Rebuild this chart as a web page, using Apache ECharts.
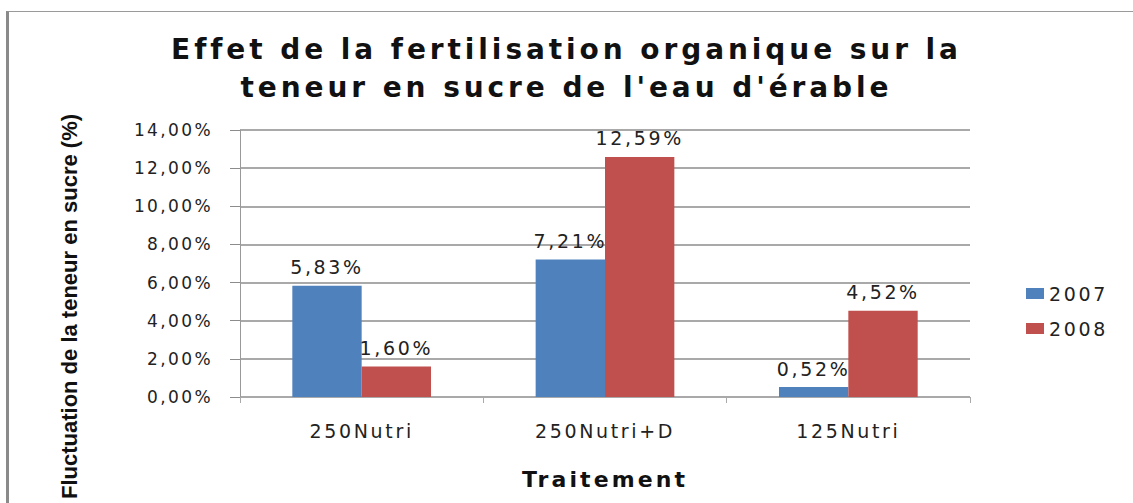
<!DOCTYPE html>
<html>
<head>
<meta charset="utf-8">
<script src="https://cdn.jsdelivr.net/npm/echarts@6/dist/echarts.min.js"></script>
<style>
  html, body { margin: 0; padding: 0; background: #fff; }
  #main { position: absolute; left: 0; top: 0; width: 1133px; height: 503px; }
  /* le texte de l'original est tres large : on espace les lettres */
  #main svg text { letter-spacing: 0.14em; }
  /* cadre du graphique (bord gauche et haut) */
  #frame { position: absolute; left: 6px; top: 11px; width: 1127px; height: 492px;
           border-left: 3px solid #8a8a8a; border-top: 1px solid #9a9a9a;
           box-sizing: border-box; pointer-events: none; }
</style>
</head>
<body>
<div id="main"></div>
<div id="frame"></div>
<script>
// donnees (en %)
var traitements = ['250Nutri', '250Nutri+D', '125Nutri'];
var annees = ['2007', '2008'];
var val2007 = [5.83, 7.21, 0.52];
var val2008 = [1.60, 12.59, 4.52];
var yMax = 14, yPas = 2;
var nomY = 'Fluctuation de la teneur en sucre (%)';

function pct(v) { return v.toFixed(2).replace('.', ',') + '%'; }

var font = 'DejaVu Sans';
var myChart = echarts.init(document.getElementById('main'), null, { renderer: 'svg' });

var labelCfg = {
  show: true, position: 'top', distance: 9,
  color: '#222', fontFamily: font, fontSize: 19,
  formatter: function (p) { return pct(p.value); }
};

var option = {
  backgroundColor: '#fff',
  animation: false,
  title: {
    text: "Effet de la fertilisation organique sur la\nteneur en sucre de l'eau d'érable",
    left: 'center', top: 25,
    textStyle: { fontFamily: font, fontWeight: 'bold', fontSize: 28, lineHeight: 38, color: '#111' }
  },
  legend: {
    data: annees, orient: 'vertical', left: 1021, top: 279, icon: 'rect',
    itemWidth: 18, itemHeight: 11, itemGap: 16,
    textStyle: { fontFamily: font, fontSize: 19, color: '#222' }
  },
  grid: { left: 240, right: 163, top: 130, bottom: 106, outerBoundsMode: 'none' },
  xAxis: {
    type: 'category', data: traitements,
    name: 'Traitement', nameLocation: 'middle', nameGap: 71,
    nameTextStyle: { fontFamily: font, fontWeight: 'bold', fontSize: 22, color: '#111' },
    axisLine: { show: false },
    axisTick: { show: true, length: 6, lineStyle: { color: '#aaa' } },
    axisLabel: { margin: 24, fontFamily: font, fontSize: 19, color: '#222' }
  },
  yAxis: {
    type: 'value', min: 0, max: yMax, interval: yPas,
    name: nomY, nameLocation: 'middle', nameGap: 160,
    nameTextStyle: {
      fontFamily: 'Liberation Sans Narrow, Arial Narrow, sans-serif', fontWeight: 'bold',
      fontSize: 22, color: '#111', padding: [0, 86, 0, 0]
    },
    axisLine: { show: true, lineStyle: { color: '#999', width: 1 } },
    axisTick: { show: true, length: 10, lineStyle: { color: '#8c8c8c' } },
    axisLabel: { margin: 27, fontFamily: font, fontSize: 17, color: '#222', formatter: pct },
    splitLine: { lineStyle: { color: '#8c8c8c', width: 1.5 } }
  },
  series: [
    { name: annees[0], type: 'bar', data: val2007, barGap: '0%', barCategoryGap: '43%',
      itemStyle: { color: '#4F81BD' }, label: labelCfg },
    { name: annees[1], type: 'bar', data: val2008, barGap: '0%', barCategoryGap: '43%',
      itemStyle: { color: '#C0504D' }, label: labelCfg }
  ]
};

myChart.setOption(option);

// le titre de l'axe Y n'est pas elargi dans l'original
function fixNomY() {
  var t = document.querySelectorAll('#main svg text');
  for (var i = 0; i < t.length; i++) {
    if (t[i].textContent.trim() === nomY) t[i].style.letterSpacing = '0';
  }
}
fixNomY();
myChart.on('finished', fixNomY);
</script>
</body>
</html>
